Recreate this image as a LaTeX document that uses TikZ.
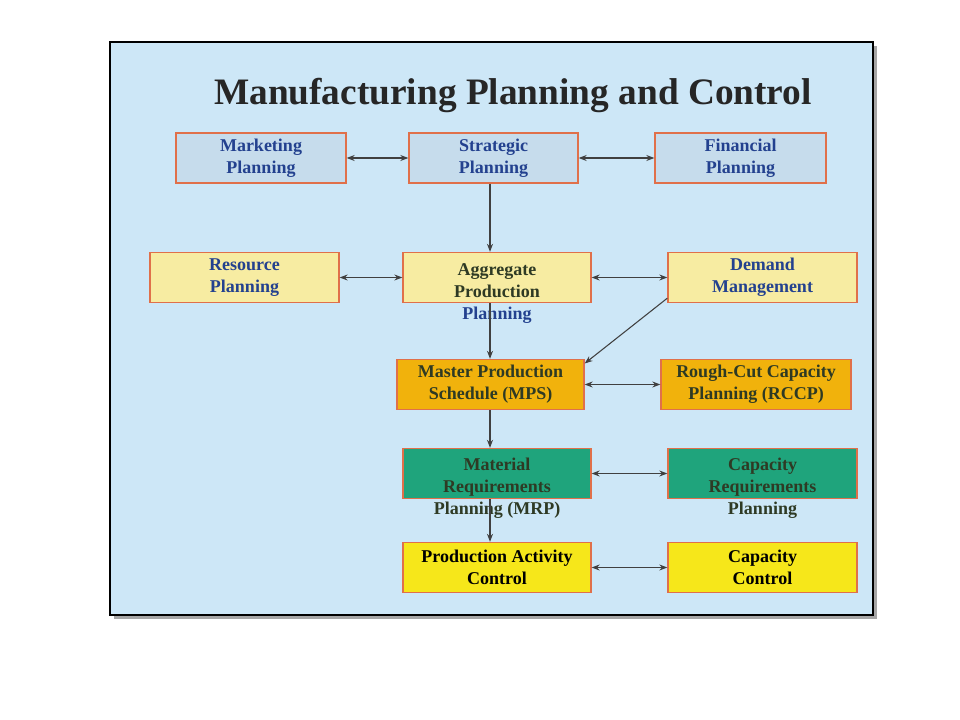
\documentclass[tikz,border=0pt]{standalone}
\usepackage{fontspec}
\setmainfont{Liberation Serif}
\usetikzlibrary{arrows.meta}
\definecolor{bg}{HTML}{CDE7F7}
\definecolor{bluef}{HTML}{C6DCEC}
\definecolor{bluet}{HTML}{23418F}
\definecolor{lyel}{HTML}{F7ECA2}
\definecolor{oran}{HTML}{F1B20C}
\definecolor{gree}{HTML}{1FA47C}
\definecolor{yel}{HTML}{F6E71A}
\definecolor{bord}{HTML}{E0704A}
\definecolor{darkt}{HTML}{2E3A24}
\tikzset{
 x=0.75pt,y=-0.75pt,
 box/.style={draw=bord,line width=1pt,minimum width=#1*0.75pt,minimum height=37.5pt,inner sep=0pt},
 txt/.style={font=\bfseries\fontsize{13.5}{16.5}\selectfont,align=center,inner sep=0pt},
 link/.style={draw=black!75,line width=0.8pt,-{Stealth[length=6pt,width=4.5pt]}},
 dlink/.style={draw=black!75,line width=0.8pt,{Stealth[length=6pt,width=4.5pt]}-{Stealth[length=6pt,width=4.5pt]}},
}
\begin{document}
\begin{tikzpicture}
\useasboundingbox (0,0) rectangle (960,720);
\fill[white] (0,0) rectangle (960,720);
\fill[black!35] (114,46) rectangle (877,619);
\filldraw[fill=bg,draw=black,line width=2.2pt] (110,42) rectangle (873,615);
\node[font=\bfseries\fontsize{28}{32}\selectfont,text=black!85] (title) at (513,95) {Manufacturing Planning and Control};
% boxes
\node[box=170,fill=bluef] (mkt) at (261,158) {};
\node[box=169,fill=bluef] (str) at (493.5,158) {};
\node[box=171,fill=bluef] (fin) at (740.5,158) {};
\node[box=189,fill=lyel] (res) at (244.5,277.5) {};
\node[box=188,fill=lyel] (agg) at (497,277.5) {};
\node[box=189,fill=lyel] (dem) at (762.5,277.5) {};
\node[box=187,fill=oran] (mps) at (490.5,384.5) {};
\node[box=190,fill=oran] (rccp) at (756,384.5) {};
\node[box=188,fill=gree] (mrp) at (497,473.5) {};
\node[box=189,fill=gree] (crp) at (762.5,473.5) {};
\node[box=188,fill=yel] (pac) at (497,567.5) {};
\node[box=189,fill=yel] (cc) at (762.5,567.5) {};
% texts
\node[txt,text=bluet] (tmkt) at (mkt) {Marketing\\Planning};
\node[txt,text=bluet] (tstr) at (str) {Strategic\\Planning};
\node[txt,text=bluet] (tfin) at (fin) {Financial\\Planning};
\node[txt,text=bluet] (tres) at (res) {Resource\\Planning};
\node[txt,text=darkt] (tagg1) at (497,281) {Aggregate\\Production};
\node[txt,text=bluet] (tagg2) at (497,315) {Planning};
\node[txt,text=bluet] (tdem) at (dem) {Demand\\Management};
\node[txt,text=darkt] (tmps) at (mps) {Master Production\\Schedule (MPS)};
\node[txt,text=darkt] (trccp) at (rccp) {Rough-Cut Capacity\\Planning (RCCP)};
\node[txt,text=darkt] (tmrp) at (497,488) {Material\\Requirements\\Planning (MRP)};
\node[txt,text=darkt] (tcrp) at (762.5,488) {Capacity\\Requirements\\Planning};
\node[txt,text=black] (tpac) at (pac) {Production Activity\\Control};
\node[txt,text=black] (tcc) at (cc) {Capacity\\Control};
% connectors
\draw[dlink] (mkt) -- (str);
\draw[dlink] (str) -- (fin);
\draw[dlink] (res) -- (agg);
\draw[dlink] (agg) -- (dem);
\draw[dlink] (mps) -- (rccp);
\draw[dlink] (mrp) -- (crp);
\draw[dlink] (pac) -- (cc);
\draw[link] (str.south -| 490,0) -- (agg.north -| 490,0);
\draw[link] (agg.south -| 490,0) -- (mps.north -| 490,0);
\draw[link] (mps.south -| 490,0) -- (mrp.north -| 490,0);
\draw[link] (mrp.south -| 490,0) -- (pac.north -| 490,0);
\draw[link] (dem.south west) ++(0,-5) -- ([yshift=-3.5pt]mps.north east);
\end{tikzpicture}
\end{document}
